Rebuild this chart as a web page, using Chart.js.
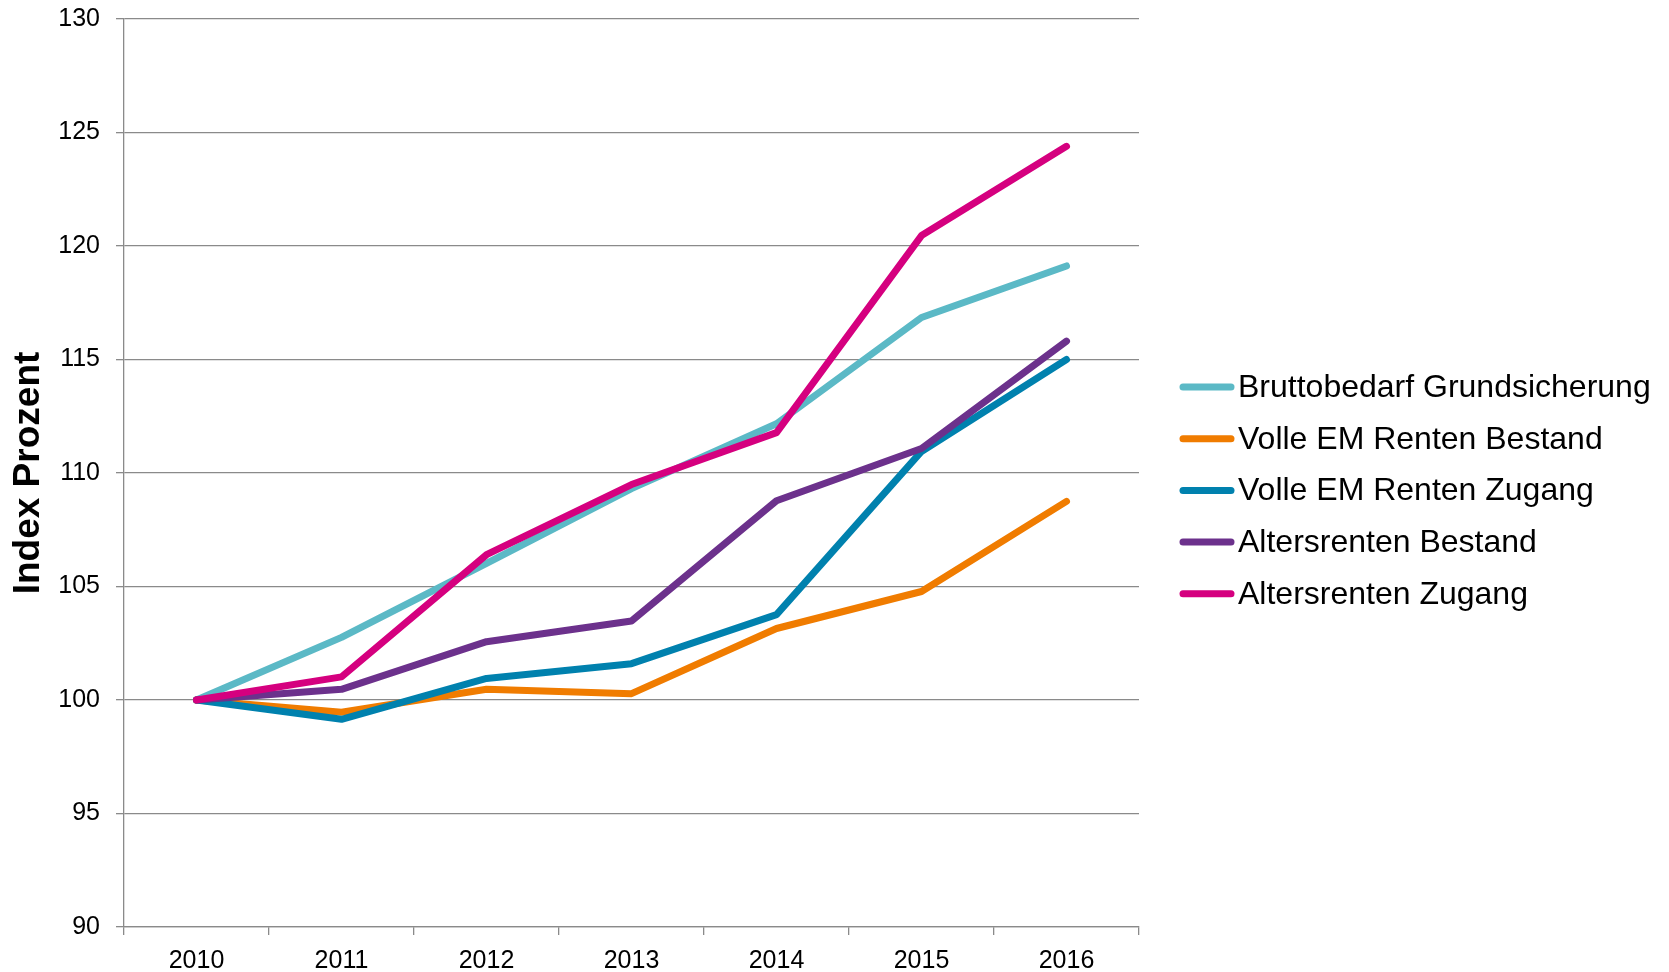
<!DOCTYPE html>
<html>
<head>
<meta charset="utf-8">
<script src="https://cdn.jsdelivr.net/npm/chart.js@4.4.0/dist/chart.umd.min.js"></script>
<style>
  html, body { margin: 0; padding: 0; background: #fff; }
  #wrap { width: 1669px; height: 972px; }
</style>
</head>
<body>
<div id="wrap"><canvas id="indexChart"></canvas></div>
<script>
// Index 2010 = 100
const years = ['2010', '2011', '2012', '2013', '2014', '2015', '2016'];
const bruttobedarf = [100, 102.76, 106.02, 109.31, 112.17, 116.85, 119.12];
const emBestand    = [100, 99.46, 100.47, 100.28, 103.15, 104.78, 108.75];
const emZugang     = [100, 99.15, 100.95, 101.60, 103.76, 110.95, 115.00];
const arBestand    = [100, 100.47, 102.57, 103.48, 108.78, 111.08, 115.81];
const arZugang     = [100, 101.02, 106.40, 109.49, 111.78, 120.46, 124.39];

const FONT = '"Liberation Sans", Arial, sans-serif';
const GRID = '#8a8a8a';

Chart.defaults.font.family = FONT;
Chart.defaults.color = '#000';

function line(label, data, color, order) {
  return {
    label: label,
    data: data,
    borderColor: color,
    backgroundColor: color,
    borderWidth: 7,
    borderCapStyle: 'round',
    borderJoinStyle: 'round',
    pointRadius: 0,
    pointHoverRadius: 0,
    tension: 0,
    fill: false,
    order: order
  };
}

// legend on the right, drawn by hand
const sideLegend = {
  id: 'sideLegend',
  afterDraw(chart) {
    const ctx = chart.ctx;
    const x0 = 1183, x1 = 1231, tx = 1238;
    const top = 387, step = 51.7;
    ctx.save();
    ctx.font = '32px ' + FONT;
    ctx.textBaseline = 'middle';
    chart.data.datasets.forEach((ds, i) => {
      const y = top + i * step;
      ctx.strokeStyle = ds.borderColor;
      ctx.lineWidth = 7;
      ctx.lineCap = 'round';
      ctx.beginPath();
      ctx.moveTo(x0, y);
      ctx.lineTo(x1, y);
      ctx.stroke();
      ctx.fillStyle = '#000';
      ctx.fillText(ds.label, tx, y + 1);
    });
    ctx.restore();
  }
};

new Chart(document.getElementById('indexChart'), {
  type: 'line',
  data: {
    labels: years,
    datasets: [
      line('Bruttobedarf Grundsicherung', bruttobedarf, '#5bb9c6', 4),
      line('Volle EM Renten Bestand', emBestand, '#f07c00', 3),
      line('Volle EM Renten Zugang', emZugang, '#0081ae', 2),
      line('Altersrenten Bestand', arBestand, '#6c318c', 1),
      line('Altersrenten Zugang', arZugang, '#d5007f', 0)
    ]
  },
  options: {
    responsive: true,
    maintainAspectRatio: false,
    devicePixelRatio: 1,
    animation: false,
    layout: { padding: { top: 19, right: 530, bottom: 0, left: 0 } },
    plugins: {
      legend: { display: false },
      tooltip: { enabled: false }
    },
    scales: {
      x: {
        offset: true,
        grid: {
          offset: true,
          drawOnChartArea: false,
          drawTicks: true,
          tickLength: 8,
          color: GRID,
          lineWidth: 1.3
        },
        border: { color: GRID, width: 1.3 },
        ticks: { font: { size: 25 }, padding: 11, maxRotation: 0 },
        afterFit(scale) { scale.height = 45; }
      },
      y: {
        min: 90,
        max: 130,
        ticks: { stepSize: 5, font: { size: 25 }, padding: 16 },
        grid: { color: GRID, lineWidth: 1.3, tickLength: 8 },
        border: { color: GRID, width: 1.3 },
        title: {
          display: true,
          text: 'Index Prozent',
          font: { size: 37, weight: 'bold' },
          padding: { top: 7, bottom: 0 }
        },
        afterFit(scale) {
          scale.width = 124;
          scale.paddingTop = 0;
          scale.paddingBottom = 0;
        }
      }
    }
  },
  plugins: [sideLegend]
});
</script>
</body>
</html>
